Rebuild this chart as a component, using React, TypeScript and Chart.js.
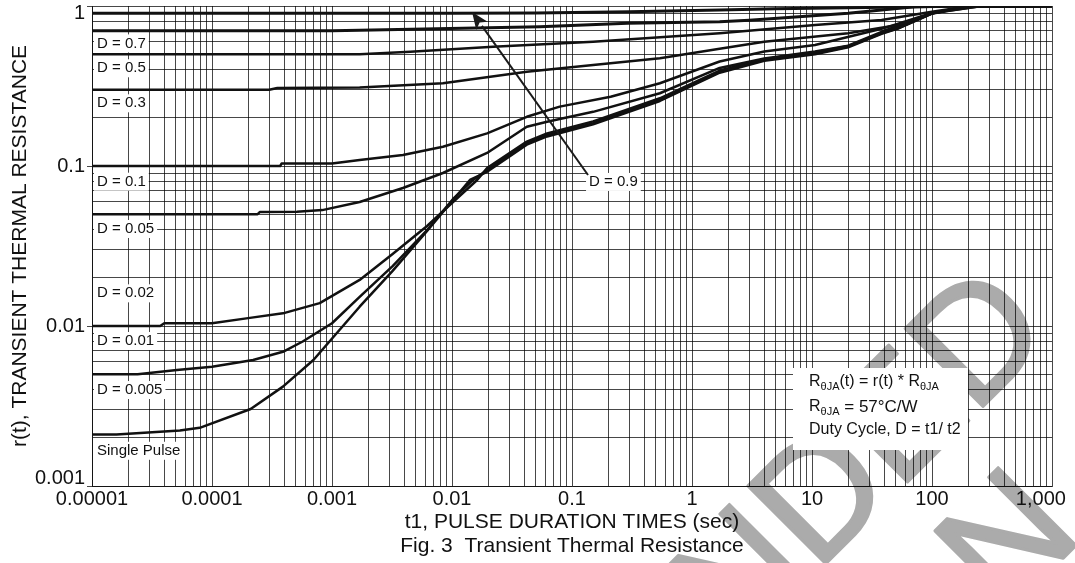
import React, { useEffect, useRef } from 'react';
import { Chart, registerables } from 'chart.js';

Chart.register(...registerables);

const FONT = '"Liberation Sans", Arial, Helvetica, sans-serif';
const GRID = 'rgba(0,0,0,0.72)';
const INK = '#111111';

// ---- axis ticks ----
const X_TICKS = [0.00001, 0.0001, 0.001, 0.01, 0.1, 1, 10, 100, 1000];
const X_LABELS = ['0.00001', '0.0001', '0.001', '0.01', '0.1', '1', '10', '100', '1,000    '];
const Y_TICKS = [0.001, 0.01, 0.1, 1];
const Y_LABELS = ['0.001', '0.01', '0.1', '1'];

// ---- curves: t1 (sec) and r(t) ----
const tD09 = [1e-5, 0.01, 0.05, 0.3, 1.7, 5, 20, 60, 150, 1000];
const rD09 = [0.9, 0.9, 0.905, 0.92, 0.944, 0.962, 0.975, 0.985, 1.0, 1.0];

const tD07 = [1e-5, 1e-3, 1.7e-3, 0.054, 0.29, 1.7, 3, 20, 72, 260, 1000];
const rD07 = [0.7, 0.7, 0.705, 0.743, 0.78, 0.798, 0.815, 0.9, 0.99, 1.0, 1.0];

const tD05 = [1e-5, 1.7e-3, 4.5e-3, 0.022, 0.15, 1.7, 10.6, 38, 100, 190, 1000];
const rD05 = [0.5, 0.5, 0.518, 0.557, 0.598, 0.675, 0.761, 0.818, 0.92, 0.99, 1.0];

const tD03 = [1e-5, 3e-4, 3.5e-4, 1.7e-3, 8.4e-3, 0.042, 0.15, 0.54, 1.7, 4, 20, 52, 100, 260, 1000];
const rD03 = [0.3, 0.3, 0.307, 0.309, 0.329, 0.388, 0.428, 0.471, 0.54, 0.598, 0.675, 0.761, 0.9, 1.0, 1.0];

const tD01 = [1e-5, 3.7e-4, 3.8e-4, 1e-3, 1.7e-3, 3.9e-3, 8.4e-3, 0.0196, 0.042, 0.079, 0.21, 0.54, 1.7, 4, 10.6, 38, 100, 260, 1000];
const rD01 = [0.1, 0.1, 0.1035, 0.1035, 0.109, 0.117, 0.132, 0.16, 0.203, 0.235, 0.271, 0.329, 0.45, 0.52, 0.57, 0.72, 0.905, 1.0, 1.0];

const tD005 = [1e-5, 2.4e-4, 2.5e-4, 5.1e-4, 8.3e-4, 1.7e-3, 3.9e-3, 8.4e-3, 0.0196, 0.042, 0.062, 0.15, 0.54, 1.7, 4, 10.6, 20, 38, 100, 190, 1000];
const rD005 = [0.05, 0.05, 0.0515, 0.0518, 0.053, 0.0596, 0.0729, 0.0904, 0.1206, 0.176, 0.189, 0.218, 0.285, 0.41, 0.47, 0.52, 0.565, 0.69, 0.9, 0.99, 1.0];

const tD002 = [1e-5, 3.7e-5, 4e-5, 1e-4, 2e-4, 3.9e-4, 7.9e-4, 1.7e-3, 3.2e-3, 6.2e-3, 0.0102, 0.0162, 0.0196, 0.042, 0.062, 0.15, 0.54, 1.7, 4, 10.6, 20, 38, 52, 100, 190, 1000];
const rD002 = [0.01, 0.01, 0.0104, 0.0104, 0.0112, 0.012, 0.0139, 0.0194, 0.0282, 0.0422, 0.0596, 0.0818, 0.097, 0.142, 0.16, 0.19, 0.265, 0.395, 0.465, 0.512, 0.562, 0.68, 0.73, 0.9, 0.99, 1.0];

const tD001 = [1e-5, 2.4e-5, 5.1e-5, 1e-4, 2.2e-4, 3.9e-4, 5.7e-4, 1e-3, 1.7e-3, 3.2e-3, 6.2e-3, 0.0102, 0.015, 0.0196, 0.042, 0.062, 0.15, 0.54, 1.7, 4, 10.6, 20, 38, 52, 100, 190, 1000];
const rD001 = [0.005, 0.005, 0.0053, 0.00557, 0.00613, 0.0069, 0.008, 0.0104, 0.0152, 0.0237, 0.0398, 0.0622, 0.0818, 0.0944, 0.1387, 0.156, 0.185, 0.2585, 0.388, 0.46, 0.506, 0.557, 0.675, 0.726, 0.9, 0.99, 1.0];

const tSingle = [1e-5, 1.6e-5, 5.4e-5, 7.9e-5, 2.1e-4, 3.9e-4, 7e-4, 1.7e-3, 3.2e-3, 6.2e-3, 0.0102, 0.0141, 0.0196, 0.042, 0.062, 0.15, 0.54, 1.7, 4, 10.6, 20, 38, 52, 100, 190, 1000];
const rSingle = [0.0021, 0.0021, 0.00222, 0.00231, 0.00303, 0.00418, 0.00613, 0.0132, 0.0221, 0.0393, 0.0613, 0.0818, 0.092, 0.136, 0.153, 0.182, 0.255, 0.383, 0.455, 0.5, 0.552, 0.67, 0.722, 0.895, 0.99, 1.0];

const SERIES_NAMES = ['D = 0.9', 'D = 0.7', 'D = 0.5', 'D = 0.3', 'D = 0.1', 'D = 0.05', 'D = 0.02', 'D = 0.01', 'Single Pulse'];
const SERIES_T = [tD09, tD07, tD05, tD03, tD01, tD005, tD002, tD001, tSingle];
const SERIES_R = [rD09, rD07, rD05, rD03, rD01, rD005, rD002, rD001, rSingle];

// ---- annotation texts ----
const LEFT_LABELS = ['D = 0.7', 'D = 0.5', 'D = 0.3', 'D = 0.1', 'D = 0.05', 'D = 0.02', 'D = 0.01', 'D = 0.005', 'Single Pulse'];
const ARROW_LABEL = 'D = 0.9';
const WATERMARK_LINES = ['NOT RECOMMENDED', 'FOR NEW DESIGN'];

// annotation placement (value-space anchors)
const LEFT_LABEL_AT = [0.584, 0.408, 0.2465, 0.0798, 0.0404, 0.016, 0.00806, 0.00398, 0.00166];
const ARROW_TAIL = { x: 0.136, y: 0.0879 };
const ARROW_HEAD = { x: 0.0147, y: 0.917 };
const ARROW_LABEL_AT = { x: 0.136, y: 0.0795 };

function matchIndex(list: number[], v: number) {
  for (let i = 0; i < list.length; i++) {
    if (Math.abs(v / list[i] - 1) < 1e-6) return i;
  }
  return -1;
}

function buildLogTicks(lo: number, hi: number) {
  return (scale: any) => {
    const ticks: any[] = [];
    for (let e = lo; e < hi; e++) {
      for (let m = 1; m < 10; m++) {
        ticks.push({ value: parseFloat((m * Math.pow(10, e)).toPrecision(6)), major: m === 1 });
      }
    }
    ticks.push({ value: Math.pow(10, hi), major: true });
    scale.ticks = ticks;
  };
}

function boxLabel(ctx: CanvasRenderingContext2D, text: string, x: number, y: number) {
  ctx.font = `15px ${FONT}`;
  const w = ctx.measureText(text).width;
  ctx.fillStyle = '#ffffff';
  ctx.fillRect(x - 3, y - 9, w + 6, 18);
  ctx.fillStyle = INK;
  ctx.textAlign = 'left';
  ctx.textBaseline = 'middle';
  ctx.fillText(text, x, y);
}

function drawRich(ctx: CanvasRenderingContext2D, segs: { t: string; s: number; sub?: boolean }[], x: number, y: number) {
  let cx = x;
  ctx.textAlign = 'left';
  ctx.textBaseline = 'middle';
  ctx.fillStyle = INK;
  for (const seg of segs) {
    ctx.font = `${seg.s}px ${FONT}`;
    ctx.fillText(seg.t, cx, y + (seg.sub ? 5 : 0));
    cx += ctx.measureText(seg.t).width;
  }
}

const watermarkPlugin = {
  id: 'watermark',
  beforeDraw(chart: any) {
    const ctx = chart.ctx as CanvasRenderingContext2D;
    const S = 160;
    ctx.save();
    ctx.rotate(-Math.PI / 4);
    ctx.font = `${S}px ${FONT}`;
    ctx.fillStyle = '#ababab';
    ctx.strokeStyle = '#ababab';
    ctx.lineWidth = 3;
    ctx.lineJoin = 'round';
    ctx.textAlign = 'right';
    ctx.textBaseline = 'alphabetic';
    const l1y = 868 + 0.716 * S;
    const l2y = 1032 + 0.716 * S;
    ctx.fillText(WATERMARK_LINES[0], 510, l1y);
    ctx.strokeText(WATERMARK_LINES[0], 510, l1y);
    ctx.fillText(WATERMARK_LINES[1], 388, l2y);
    ctx.strokeText(WATERMARK_LINES[1], 388, l2y);
    ctx.restore();
  },
};

const annotationPlugin = {
  id: 'annotations',
  afterDraw(chart: any) {
    const ctx = chart.ctx as CanvasRenderingContext2D;
    const xs = chart.scales.x;
    const ys = chart.scales.y;
    const ca = chart.chartArea;
    ctx.save();
    LEFT_LABELS.forEach((txt, i) => {
      boxLabel(ctx, txt, ca.left + 5, ys.getPixelForValue(LEFT_LABEL_AT[i]));
    });
    boxLabel(ctx, ARROW_LABEL, xs.getPixelForValue(ARROW_LABEL_AT.x) + 1, ys.getPixelForValue(ARROW_LABEL_AT.y));
    const tx = xs.getPixelForValue(ARROW_TAIL.x);
    const ty = ys.getPixelForValue(ARROW_TAIL.y);
    const hx = xs.getPixelForValue(ARROW_HEAD.x);
    const hy = ys.getPixelForValue(ARROW_HEAD.y);
    const ang = Math.atan2(hy - ty, hx - tx);
    const headLen = 17;
    const headW = 7;
    const bx = hx - headLen * Math.cos(ang);
    const by = hy - headLen * Math.sin(ang);
    ctx.strokeStyle = '#1a1a1a';
    ctx.lineWidth = 2;
    ctx.beginPath();
    ctx.moveTo(tx, ty);
    ctx.lineTo(bx, by);
    ctx.stroke();
    ctx.fillStyle = '#1a1a1a';
    ctx.beginPath();
    ctx.moveTo(hx, hy);
    ctx.lineTo(bx + headW * Math.sin(ang), by - headW * Math.cos(ang));
    ctx.lineTo(bx + 4 * Math.cos(ang), by + 4 * Math.sin(ang));
    ctx.lineTo(bx - headW * Math.sin(ang), by + headW * Math.cos(ang));
    ctx.closePath();
    ctx.fill();
    const ix = ca.right - 259;
    const iy = ca.bottom - 118;
    ctx.fillStyle = '#ffffff';
    ctx.fillRect(ix, iy, 175, 82);
    drawRich(ctx, [
      { t: 'R', s: 16 }, { t: 'θJA', s: 11, sub: true }, { t: '(t) = r(t) * R', s: 16 }, { t: 'θJA', s: 11, sub: true },
    ], ix + 16, iy + 14);
    drawRich(ctx, [
      { t: 'R', s: 16 }, { t: 'θJA', s: 11, sub: true }, { t: ' = 57°C/W', s: 17 },
    ], ix + 16, iy + 39);
    drawRich(ctx, [{ t: 'Duty Cycle, D = t1/ t2', s: 16 }], ix + 16, iy + 62);
    ctx.restore();
  },
};

export default function App() {
  const canvasRef = useRef<HTMLCanvasElement | null>(null);

  useEffect(() => {
    const canvas = canvasRef.current;
    if (!canvas) return;
    const datasets = SERIES_NAMES.map((name, i) => ({
      label: name,
      data: SERIES_T[i].map((t, j) => ({ x: t, y: SERIES_R[i][j] })),
      borderColor: INK,
      backgroundColor: INK,
      borderWidth: i < 2 ? 3 : 2.5,
      pointRadius: 0,
      tension: 0,
      fill: false,
    }));

    const chart = new Chart(canvas, {
      type: 'line',
      data: { datasets },
      options: {
        animation: false,
        responsive: false,
        devicePixelRatio: 1,
        layout: { padding: { top: 6, right: 23, bottom: 0, left: 0 } },
        plugins: {
          legend: { display: false },
          tooltip: { enabled: false },
          title: { display: false },
        },
        elements: { line: { borderJoinStyle: 'round', borderCapStyle: 'round' } },
        scales: {
          x: {
            type: 'logarithmic',
            min: 1e-5,
            max: 1000,
            afterBuildTicks: buildLogTicks(-5, 3),
            afterFit: (s: any) => {
              s.height = 77;
              s.paddingLeft = 0;
              s.paddingRight = 0;
            },
            ticks: {
              autoSkip: false,
              maxRotation: 0,
              minRotation: 0,
              padding: 1,
              color: INK,
              font: { family: FONT, size: 20 },
              callback: (v: any) => {
                const k = matchIndex(X_TICKS, Number(v));
                return k >= 0 ? X_LABELS[k] : '';
              },
            },
            grid: { color: GRID, lineWidth: 1, drawTicks: false },
            border: { color: GRID, width: 1 },
            title: {
              display: true,
              text: ['t1, PULSE DURATION TIMES (sec)', 'Fig. 3  Transient Thermal Resistance'],
              color: INK,
              font: { family: FONT, size: 21, lineHeight: 1.15 },
              padding: { top: 0, bottom: 4.8 },
            },
          },
          y: {
            type: 'logarithmic',
            min: 0.001,
            max: 1,
            afterBuildTicks: buildLogTicks(-3, 0),
            afterFit: (s: any) => {
              s.width = 92;
              s.paddingTop = 0;
              s.paddingBottom = 0;
            },
            ticks: {
              autoSkip: false,
              padding: 2,
              color: INK,
              font: (c: any) => {
                const v = c.tick ? c.tick.value : 0;
                if (Math.abs(v - 1) < 1e-9) return { family: FONT, size: 20, lineHeight: '14px' };
                if (Math.abs(v / 0.001 - 1) < 1e-6) return { family: FONT, size: 20, lineHeight: '16px' };
                return { family: FONT, size: 20 };
              },
              callback: (v: any) => {
                const k = matchIndex(Y_TICKS, Number(v));
                if (k < 0) return '';
                if (k === Y_TICKS.length - 1) return ['', Y_LABELS[k]];
                if (k === 0) return [Y_LABELS[k], ''];
                return Y_LABELS[k];
              },
            },
            grid: {
              color: GRID,
              lineWidth: 1,
              drawTicks: true,
              tickLength: 5,
              tickColor: (c: any) => (c.tick && matchIndex(Y_TICKS, c.tick.value) >= 0 ? GRID : 'rgba(0,0,0,0)'),
            },
            border: { color: GRID, width: 1 },
            title: {
              display: true,
              text: 'r(t), TRANSIENT THERMAL RESISTANCE',
              color: INK,
              font: { family: FONT, size: 21 },
              padding: { top: 7.4, bottom: 0 },
            },
          },
        },
      } as any,
      plugins: [watermarkPlugin, annotationPlugin],
    });
    return () => chart.destroy();
  }, []);

  return (
    <div style={{ position: 'fixed', left: 0, top: 0, width: 1075, height: 563, background: '#ffffff' }}>
      <canvas ref={canvasRef} width={1075} height={563} style={{ display: 'block', width: 1075, height: 563 }} />
    </div>
  );
}
